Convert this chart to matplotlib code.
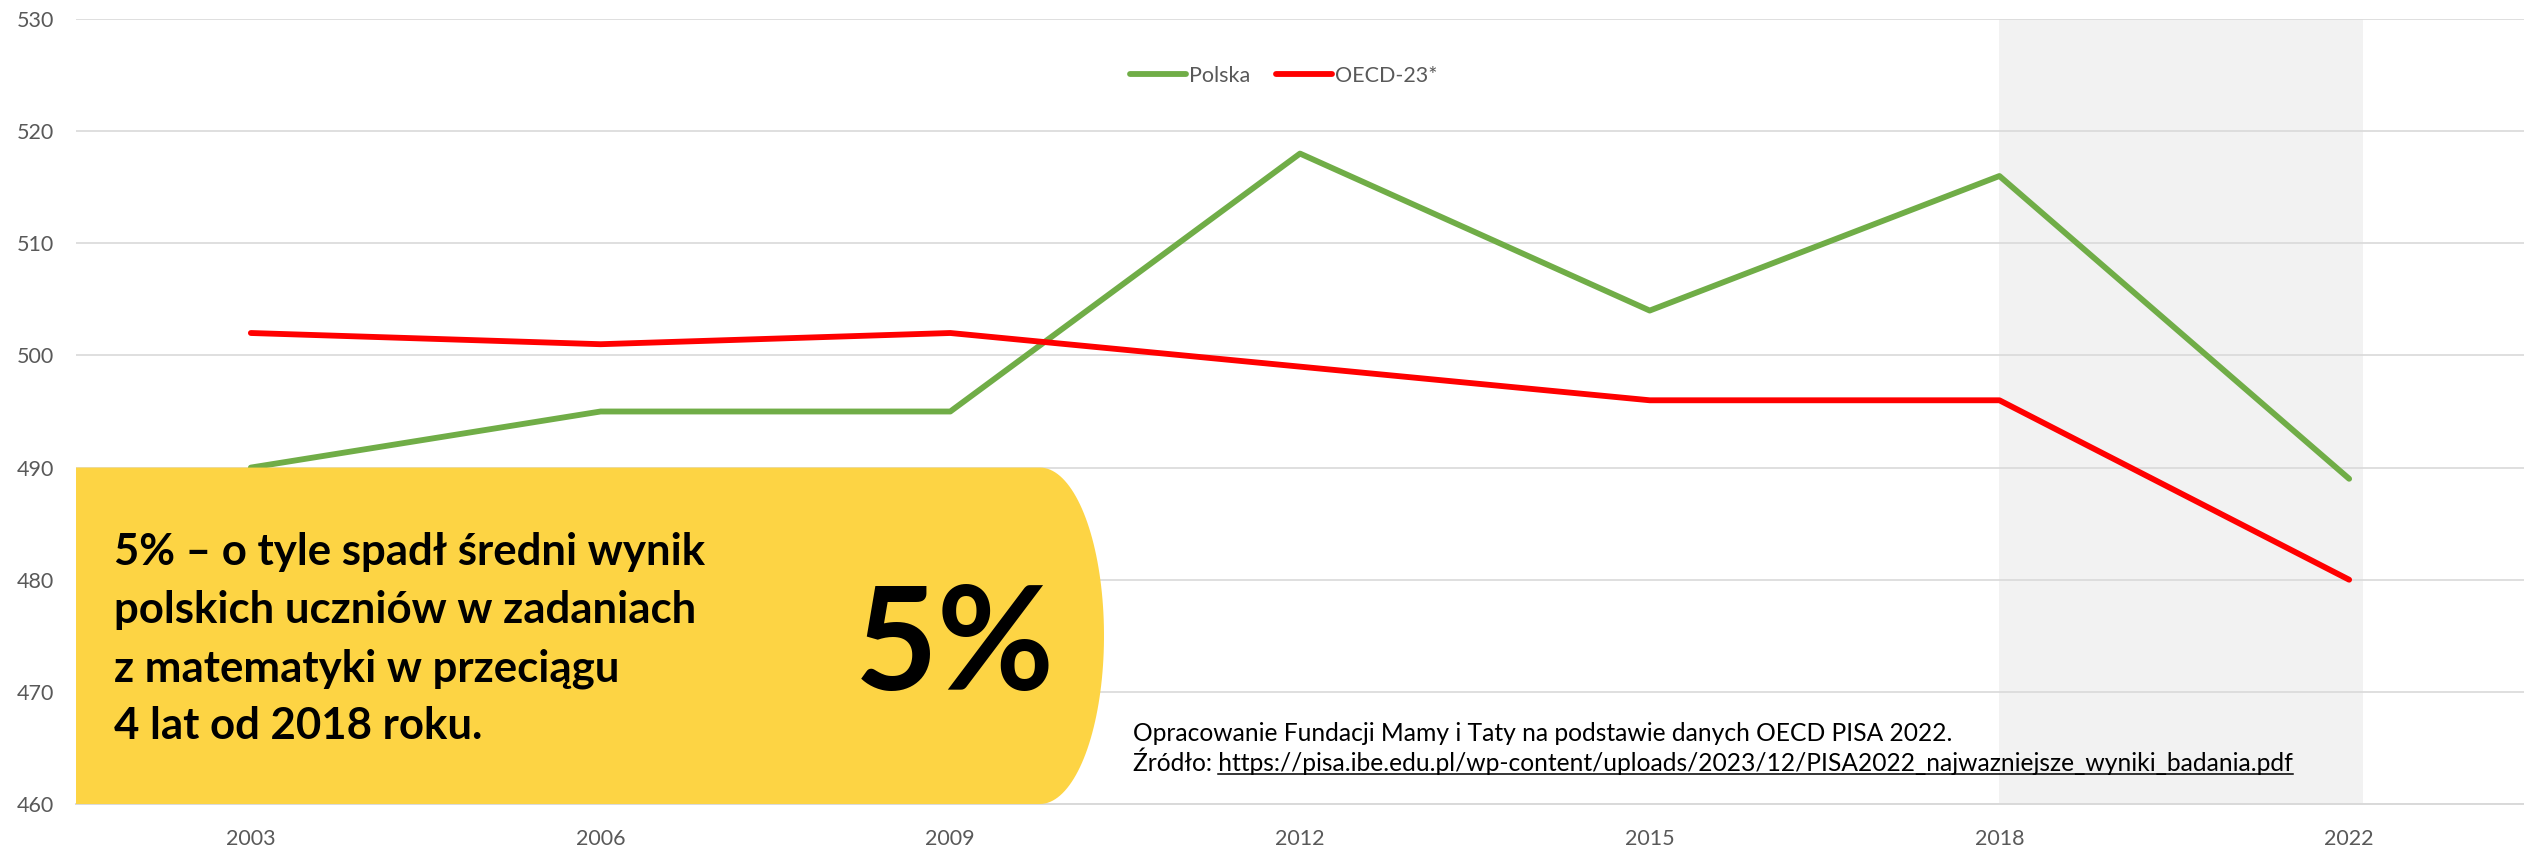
import numpy as np
import matplotlib
matplotlib.use('Agg')
import matplotlib.pyplot as plt
from matplotlib.patches import Polygon
from matplotlib.transforms import blended_transform_factory

years = ['2003', '2006', '2009', '2012', '2015', '2018', '2022']
polska = [490, 495, 495, 518, 504, 516, 489]
oecd = [502, 501, 502, 499, 496, 496, 480]
series_names = ['Polska', 'OECD-23*']
y_ticks = [460, 470, 480, 490, 500, 510, 520, 530]

box_lines = ['5% – o tyle spadł średni wynik',
             'polskich uczniów w zadaniach',
             'z matematyki w przeciągu',
             '4 lat od 2018 roku.']
big_label = '5%'
note_line = 'Opracowanie Fundacji Mamy i Taty na podstawie danych OECD PISA 2022.'
src_prefix = 'Źródło: '
src_url = 'https://pisa.ibe.edu.pl/wp-content/uploads/2023/12/PISA2022_najwazniejsze_wyniki_badania.pdf'

plt.rcParams['font.family'] = ['Lato', 'DejaVu Sans']

W, H = 2524, 846
fig = plt.figure(figsize=(W / 100, H / 100), dpi=100, facecolor='white')


def fx(px):
    return px / W


def fy(py):
    return 1 - py / H


ax = fig.add_axes([fx(76), fy(804), 1 - fx(76), fy(19) - fy(804)])
x = np.arange(len(years))

# highlighted period 2018-2022
ax.axvspan(5, 6.04, color='#F2F2F2', zorder=0, lw=0)

ax.plot(x, polska, color='#70AD47', lw=4.2, solid_capstyle='round',
        solid_joinstyle='round', label=series_names[0], zorder=3)
ax.plot(x, oecd, color='#FF0000', lw=4.2, solid_capstyle='round',
        solid_joinstyle='round', label=series_names[1], zorder=3)

ax.set_xlim(-0.5, len(years) - 0.5)
ax.set_ylim(460, 530)
ax.set_yticks(y_ticks)
ax.set_xticks(x)
ax.set_xticklabels(years)
ax.yaxis.grid(True, color='#D9D9D9', lw=1.2, zorder=1)
ax.set_axisbelow(True)
for s in ['top', 'right', 'left']:
    ax.spines[s].set_visible(False)
ax.spines['bottom'].set_color('#D9D9D9')
ax.spines['bottom'].set_linewidth(1.4)
ax.tick_params(axis='both', length=0, colors='#595959', labelsize=15.5)
ax.tick_params(axis='x', pad=18)
ax.tick_params(axis='y', pad=16)

leg = fig.legend(loc='center', bbox_to_anchor=(fx(1284), fy(76)), ncol=2,
                 frameon=False, fontsize=15.5, handlelength=2.6,
                 handletextpad=0.15, columnspacing=1.2)
for t in leg.get_texts():
    t.set_color('#595959')

# yellow callout box with rounded right side
tr = blended_transform_factory(ax.transAxes, ax.transData)
x0 = (1040 - 76) / (W - 76)
a = (1104 - 1040) / (W - 76)
th = np.linspace(np.pi / 2, -np.pi / 2, 80)
pts = [(0, 490)] + [(x0 + a * np.cos(t), 475 + 15 * np.sin(t)) for t in th] + [(0, 460)]
ax.add_patch(Polygon(pts, closed=True, transform=tr, facecolor='#FDD444',
                     edgecolor='none', zorder=5, clip_on=False))

for i, line in enumerate(box_lines):
    fig.text(fx(114), fy(565 + 58 * i), line, fontsize=31.5, fontweight='bold',
             color='black', ha='left', va='baseline', zorder=6)
fig.text(fx(855), fy(690), big_label, fontsize=103, fontweight='bold',
         color='black', ha='left', va='baseline', zorder=6)

fs_src = 17.7
fig.text(fx(1133), fy(741), note_line, fontsize=fs_src, color='black',
         ha='left', va='baseline')
src = fig.text(fx(1133), fy(771), src_prefix + src_url, fontsize=fs_src,
               color='black', ha='left', va='baseline')

# underline the link
fig.canvas.draw()
r = fig.canvas.get_renderer()
full = src.get_window_extent(r)
tmp = fig.text(0, 0, src_url, fontsize=fs_src)
uw = tmp.get_window_extent(r).width
tmp.remove()
uy = fy(774)
fig.add_artist(plt.Line2D([(full.x1 - uw) / W, full.x1 / W], [uy, uy],
                          color='black', lw=1.1, transform=fig.transFigure))

fig.savefig('out.png', dpi=100, facecolor='white')
